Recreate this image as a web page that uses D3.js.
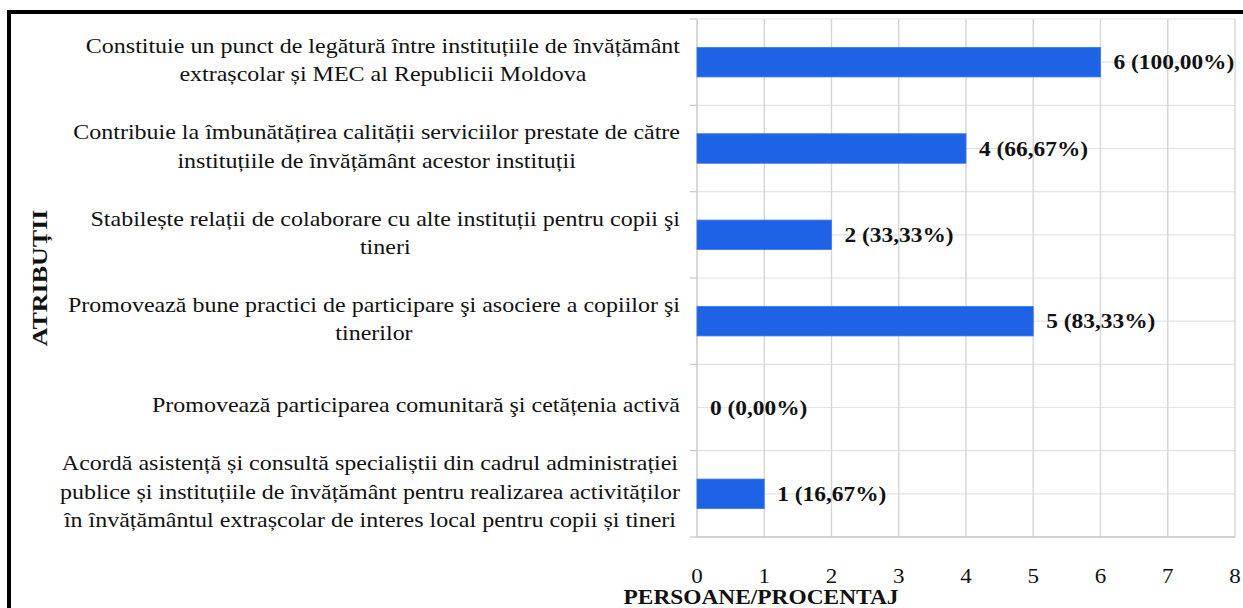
<!DOCTYPE html>
<html>
<head>
<meta charset="utf-8">
<script src="https://cdn.jsdelivr.net/npm/d3@7/dist/d3.min.js"></script>
<style>
  html, body { margin: 0; padding: 0; background: #fff; }
  svg { display: block; }
  text { font-family: "Liberation Serif", "Times New Roman", serif; fill: #111; }
</style>
</head>
<body>
<svg id="chart" width="1243" height="608"></svg>
<script>
// ---- data ----
const categories = [
  ["Constituie un punct de legătură între instituțiile de învățământ", "extrașcolar și MEC al Republicii Moldova"],
  ["Contribuie la îmbunătățirea calității serviciilor prestate de către", "instituțiile de învățământ acestor instituții"],
  ["Stabilește relații de colaborare cu alte instituții pentru copii şi", "tineri"],
  ["Promovează bune practici de participare şi asociere a copiilor şi", "tinerilor"],
  ["Promovează participarea comunitară şi cetățenia activă"],
  ["Acordă asistență și consultă specialiștii din cadrul administrației", "publice și instituțiile de învățământ pentru realizarea activităților", "în învățământul extrașcolar de interes local pentru copii și tineri"]
];
const values = [6, 4, 2, 5, 0, 1];
const percentLabels = ["100,00%", "66,67%", "33,33%", "83,33%", "0,00%", "16,67%"];
const xTicks = [0, 1, 2, 3, 4, 5, 6, 7, 8];
const xTitle = "PERSOANE/PROCENTAJ";
const yTitle = "ATRIBUȚII";

// ---- layout ----
const svg = d3.select("#chart");
const pLeft = 697, pRight = 1235, pTop = 19, pBottom = 537;
const FS = 20;
const SX = 1.2;           // horizontal stretch of the serif text

const x = d3.scaleLinear().domain([0, 8]).range([pLeft, pRight]);
const idx = categories.map((d, i) => i);
const y = d3.scaleBand().domain(idx).range([pTop, pBottom]).paddingInner(0.658).paddingOuter(0.329);
const step = y.step();

// outer frame
svg.append("line").attr("x1", 7).attr("x2", 1243).attr("y1", 12).attr("y2", 12)
  .attr("stroke", "#000").attr("stroke-width", 4);
svg.append("line").attr("x1", 9).attr("x2", 9).attr("y1", 10).attr("y2", 608)
  .attr("stroke", "#000").attr("stroke-width", 4);

// horizontal gridlines: category boundaries and centres
const boundaries = d3.range(categories.length + 1).map(i => pTop + i * step);
const centres = idx.map(i => y(i) + y.bandwidth() / 2);
svg.append("g").selectAll("line").data(boundaries.concat(centres)).join("line")
  .attr("x1", pLeft).attr("x2", pRight).attr("y1", d => d).attr("y2", d => d)
  .attr("stroke", "#e4e4e4").attr("stroke-width", 1.2);

// vertical gridlines
svg.append("g").selectAll("line").data(xTicks.slice(1)).join("line")
  .attr("x1", d => x(d)).attr("x2", d => x(d)).attr("y1", pTop).attr("y2", pBottom)
  .attr("stroke", "#d6d6d6").attr("stroke-width", 1.4);

// axes lines
svg.append("line").attr("x1", pLeft).attr("x2", pRight).attr("y1", pBottom).attr("y2", pBottom)
  .attr("stroke", "#c8c8c8").attr("stroke-width", 1.4);
svg.append("line").attr("x1", pLeft).attr("x2", pLeft).attr("y1", pTop).attr("y2", pBottom)
  .attr("stroke", "#c8c8c8").attr("stroke-width", 1.4);
// category tick marks
svg.append("g").selectAll("line").data(boundaries).join("line")
  .attr("x1", pLeft - 7).attr("x2", pLeft).attr("y1", d => d).attr("y2", d => d)
  .attr("stroke", "#c8c8c8").attr("stroke-width", 1.2);

// bars
svg.append("g").selectAll("rect").data(values).join("rect")
  .attr("x", x(0)).attr("y", (d, i) => y(i))
  .attr("width", d => x(d) - x(0)).attr("height", y.bandwidth())
  .attr("fill", "#1e63e6").attr("stroke", "#3b78ea").attr("stroke-width", 0.8);

// data labels
values.forEach((v, i) => {
  const cy = y(i) + y.bandwidth() / 2;
  svg.append("text")
    .attr("transform", `translate(${x(v) + 13},${cy + 7}) scale(1.17,1)`)
    .attr("font-size", FS).attr("font-weight", "bold")
    .text(`${v} (${percentLabels[i]})`);
});

// category labels
const labelRight = 680, lineH = 28.5;
categories.forEach((lines, i) => {
  const cy = y(i) + y.bandwidth() / 2;
  const g = svg.append("g").attr("transform", `translate(${labelRight},0) scale(${SX},1)`);
  const texts = lines.map(t => g.append("text").attr("font-size", FS).attr("text-anchor", "middle").text(t));
  const maxW = d3.max(texts, t => t.node().getComputedTextLength());
  const startC = cy - (lines.length - 1) * lineH / 2;
  texts.forEach((t, k) => t.attr("x", -maxW / 2).attr("y", startC + k * lineH + 5));
});

// x tick labels
svg.append("g").selectAll("text").data(xTicks).join("text")
  .attr("transform", d => `translate(${x(d)},583) scale(1.15,1)`)
  .attr("text-anchor", "middle").attr("font-size", FS)
  .text(d => d);

// axis titles
svg.append("text")
  .attr("transform", `translate(761,604) scale(1.17,1)`)
  .attr("text-anchor", "middle").attr("font-size", FS).attr("font-weight", "bold")
  .text(xTitle);
svg.append("text")
  .attr("transform", `translate(47,${(pTop + pBottom) / 2}) rotate(-90) scale(1.3,1)`)
  .attr("text-anchor", "middle").attr("font-size", FS).attr("font-weight", "bold")
  .text(yTitle);
</script>
</body>
</html>
